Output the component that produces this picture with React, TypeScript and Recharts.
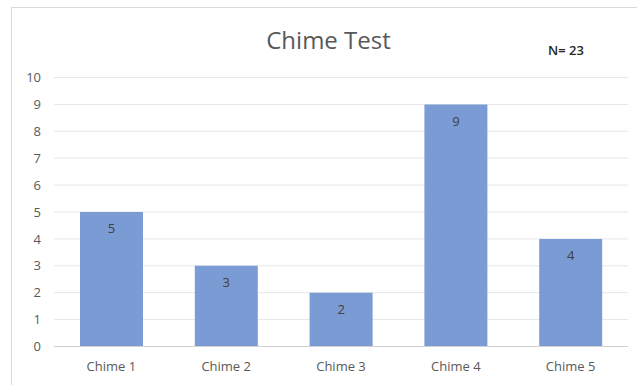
import React from 'react';
import { BarChart, Bar, XAxis, YAxis, CartesianGrid, LabelList } from 'recharts';

const categories = ['Chime 1', 'Chime 2', 'Chime 3', 'Chime 4', 'Chime 5'];
const counts = [5, 3, 2, 9, 4];
const yTicks = [0, 1, 2, 3, 4, 5, 6, 7, 8, 9, 10];
const title = 'Chime Test';
const sampleNote = 'N= 23';

const FONT = '"Open Sans", "Noto Sans", sans-serif';
const BAR = '#7A9BD4';
const AXIS_TEXT = '#595959';

export default function App() {
  const data = categories.map((name, i) => ({ name, count: counts[i] }));

  return (
    <div
      style={{
        position: 'absolute',
        left: 0,
        top: 0,
        width: 637,
        height: 385,
        overflow: 'hidden',
        background: '#fff',
        fontFamily: FONT,
      }}
    >
      {/* chart area frame, right/bottom edges fall off the canvas */}
      <div
        style={{
          position: 'absolute',
          left: 11,
          top: 7,
          width: 700,
          height: 500,
          border: '1px solid #D9D9D9',
          boxSizing: 'border-box',
        }}
      />
      <div
        style={{
          position: 'absolute',
          left: 0,
          right: 0,
          top: 23,
          textAlign: 'center',
          fontSize: 24,
          color: AXIS_TEXT,
          paddingLeft: 20,
          lineHeight: '34px',
        }}
      >
        {title}
      </div>
      <div
        style={{
          position: 'absolute',
          left: 548,
          top: 41,
          fontSize: 13,
          fontWeight: 600,
          color: '#262626',
          lineHeight: '18px',
        }}
      >
        {sampleNote}
      </div>
      <div style={{ position: 'absolute', left: 0, top: 0 }}>
        <BarChart
          width={637}
          height={385}
          data={data}
          margin={{ top: 77.5, right: 9, bottom: 8.5, left: 0 }}
        >
          <CartesianGrid vertical={false} stroke="#E6E6E6" />
          <XAxis
            dataKey="name"
            height={30}
            tickLine={false}
            axisLine={{ stroke: '#D0D0D0' }}
            tickMargin={9}
            tick={{ fill: AXIS_TEXT, fontSize: 13, fontFamily: FONT }}
          />
          <YAxis
            width={54}
            domain={[0, 10]}
            ticks={yTicks}
            interval={0}
            axisLine={false}
            tickLine={false}
            tickMargin={7}
            tick={{ fill: AXIS_TEXT, fontSize: 13, fontFamily: FONT }}
          />
          <Bar dataKey="count" fill={BAR} barSize={63} isAnimationActive={false}>
            <LabelList
              dataKey="count"
              position="insideTop"
              offset={12}
              fill="#404040"
              fontSize={13}
              fontFamily={FONT}
            />
          </Bar>
        </BarChart>
      </div>
    </div>
  );
}
